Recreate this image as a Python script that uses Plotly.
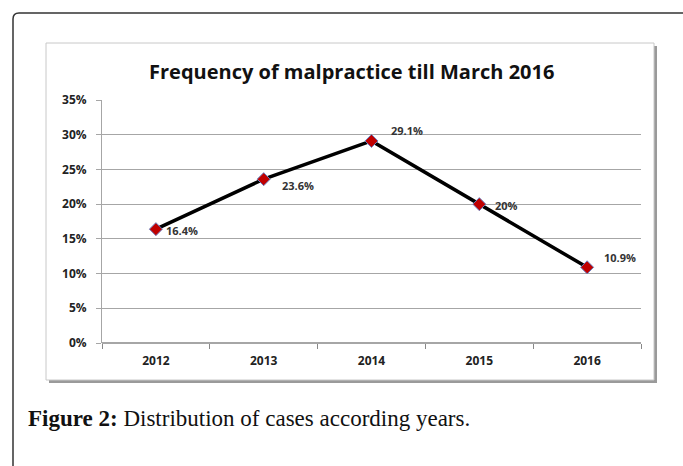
import plotly.graph_objects as go

years = ["2012", "2013", "2014", "2015", "2016"]
values = [16.4, 23.6, 29.1, 20.0, 10.9]
labels = ["16.4%", "23.6%", "29.1%", "20%", "10.9%"]
y_ticks = [0, 5, 10, 15, 20, 25, 30, 35]
y_tick_text = ["0%", "5%", "10%", "15%", "20%", "25%", "30%", "35%"]

W, H = 683, 466
L, R, T, B = 102, 641, 100, 343


def px(x):
    return (x - L) / (R - L)


def py(y):
    return (B - y) / (B - T)


fig = go.Figure()
fig.add_trace(go.Scatter(
    x=years, y=values, mode="lines+markers",
    line=dict(color="black", width=3.5),
    marker=dict(symbol="diamond", size=10, color="#c00000",
                line=dict(color="#6a7fc0", width=1)),
    hoverinfo="skip", showlegend=False,
))

annotations = []
# data labels
offsets = [(8, -1), (16, -6), (17, 10), (14, -1), (15, 10)]
for i, (v, t, (dx, dy)) in enumerate(zip(values, labels, offsets)):
    annotations.append(dict(xref="x", yref="y", x=i, y=v, text="<b>" + t + "</b>",
                            showarrow=False, xanchor="left", yanchor="middle",
                            xshift=dx, yshift=dy,
                            font=dict(family="Open Sans", size=11, color="#333333")))

annotations.append(dict(xref="paper", yref="paper", x=px(351), y=py(71),
                        text="<b>Frequency of malpractice till March 2016</b>",
                        showarrow=False, xanchor="center", yanchor="middle",
                        font=dict(family="Open Sans", size=20, color="#111111")))

annotations.append(dict(xref="paper", yref="paper", x=px(26), y=py(418),
                        text="<b>Figure 2:</b> Distribution of cases according years.",
                        showarrow=False, xanchor="left", yanchor="middle",
                        font=dict(family="Liberation Serif", size=23, color="#111111")))

shapes = []
# outer frame (top + left with rounded corner)
shapes.append(dict(type="path", xref="paper", yref="paper",
                   path=f"M {px(13)},{py(470)} L {px(13)},{py(19)} Q {px(13)},{py(13)} {px(19)},{py(13)} L {px(690)},{py(13)}",
                   line=dict(color="#333333", width=1.5), layer="below"))
# inner chart box shadow + box
shapes.append(dict(type="rect", xref="paper", yref="paper",
                   x0=px(49), x1=px(657), y0=py(46), y1=py(383),
                   fillcolor="#9a9a9a", line=dict(width=0), layer="below"))
shapes.append(dict(type="rect", xref="paper", yref="paper",
                   x0=px(46), x1=px(654), y0=py(43), y1=py(380),
                   fillcolor="white", line=dict(color="#c8c8c8", width=1), layer="below"))

fig.update_xaxes(type="category", range=[-0.5, 4.5], showgrid=False,
                 showline=False, ticks="outside", tickson="boundaries",
                 ticklen=5, tickcolor="#888888", ticklabelstandoff=9,
                 tickfont=dict(family="Open Sans", size=12, color="#222222", weight="bold"),
                 fixedrange=True)
fig.update_yaxes(range=[0, 35], tickvals=y_ticks, ticktext=y_tick_text,
                 showgrid=True, gridcolor="#a6a6a6", gridwidth=1,
                 showline=True, linecolor="#a6a6a6", linewidth=1,
                 ticks="outside", ticklen=5, tickcolor="#a6a6a6", ticklabelstandoff=7,
                 zeroline=True, zerolinecolor="#a6a6a6",
                 tickfont=dict(family="Open Sans", size=12, color="#222222", weight="bold"),
                 fixedrange=True)

fig.update_layout(width=W, height=H, margin=dict(l=L, r=W - R, t=T, b=H - B),
                  paper_bgcolor="white", plot_bgcolor="rgba(0,0,0,0)",
                  shapes=shapes, annotations=annotations)

fig.write_html("out.html", config={"displayModeBar": False},
               post_script="document.body.style.margin='0';")
